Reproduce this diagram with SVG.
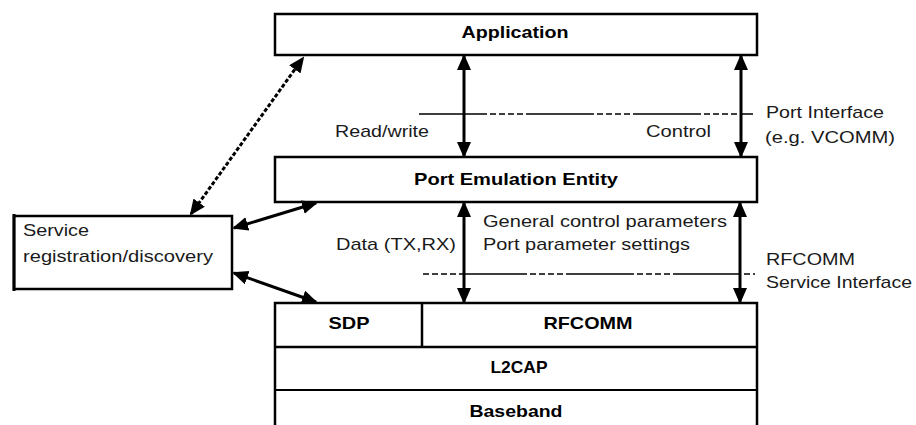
<svg xmlns="http://www.w3.org/2000/svg" width="916" height="425" viewBox="0 0 916 425">
<defs>
<style>
.box{fill:#fff;stroke:#000;stroke-width:2.5}
.t{font-family:"Liberation Sans",Arial,sans-serif;font-size:17px;fill:#1a1a1a}
.b{font-family:"Liberation Sans",Arial,sans-serif;font-size:17px;font-weight:bold;fill:#000}
.c{text-anchor:middle}
.ar{stroke:#000;stroke-width:3;fill:none;marker-start:url(#ah);marker-end:url(#ah)}
.dl{stroke:#000;stroke-width:1.6;fill:none;stroke-dasharray:68 3 6 3 6 3 6 3 6 3}
</style>
<marker id="ah" markerUnits="userSpaceOnUse" markerWidth="18" markerHeight="16" refX="14" refY="7" orient="auto-start-reverse">
<path d="M0,0 L16,7 L0,14 z" fill="#000"/>
</marker>
</defs>
<rect width="916" height="425" fill="#fff"/>

<g id="application">
<rect class="box" x="275" y="14" width="482" height="41"/>
<text class="b c" x="515" y="38" textLength="107" lengthAdjust="spacingAndGlyphs">Application</text>
</g>

<g id="port-emulation-entity">
<rect class="box" x="275" y="157" width="482" height="45"/>
<text class="b c" x="516" y="185" textLength="204" lengthAdjust="spacingAndGlyphs">Port Emulation Entity</text>
</g>

<g id="service-registration">
<rect class="box" x="14" y="216" width="218" height="73"/>
<line x1="14" y1="214" x2="14" y2="291" stroke="#000" stroke-width="3"/>
<text class="t" x="23" y="236" textLength="66" lengthAdjust="spacingAndGlyphs">Service</text>
<text class="t" x="23" y="262" textLength="190" lengthAdjust="spacingAndGlyphs">registration/discovery</text>
</g>

<g id="protocol-stack">
<rect class="box" x="275" y="303" width="482" height="140"/>
<line x1="275" y1="347" x2="757" y2="347" stroke="#000" stroke-width="2.5"/>
<line x1="275" y1="390" x2="757" y2="390" stroke="#000" stroke-width="2"/>
<line x1="422" y1="303" x2="422" y2="347" stroke="#000" stroke-width="2.5"/>
</g>
<g id="sdp"><text class="b c" x="349" y="329" textLength="41" lengthAdjust="spacingAndGlyphs">SDP</text></g>
<g id="rfcomm"><text class="b c" x="588" y="329" textLength="89" lengthAdjust="spacingAndGlyphs">RFCOMM</text></g>
<g id="l2cap"><text class="b c" x="519" y="373" textLength="57" lengthAdjust="spacingAndGlyphs">L2CAP</text></g>
<g id="baseband"><text class="b c" x="516" y="417" textLength="93" lengthAdjust="spacingAndGlyphs">Baseband</text></g>

<g id="interfaces">
<line class="dl" x1="419" y1="114" x2="753" y2="114"/>
<line class="dl" x1="420" y1="274" x2="755" y2="274" stroke-dashoffset="68"/>
<text class="t" x="766" y="118" textLength="118" lengthAdjust="spacingAndGlyphs">Port Interface</text>
<text class="t" x="765" y="143" textLength="130" lengthAdjust="spacingAndGlyphs">(e.g. VCOMM)</text>
<text class="t" x="766" y="265" textLength="89" lengthAdjust="spacingAndGlyphs">RFCOMM</text>
<text class="t" x="766" y="288" textLength="146" lengthAdjust="spacingAndGlyphs">Service Interface</text>
</g>

<g id="connectors">
<line class="ar" x1="464" y1="56" x2="464" y2="156"/>
<line class="ar" x1="741" y1="56" x2="741" y2="156"/>
<line class="ar" x1="464" y1="203" x2="464" y2="302"/>
<line class="ar" x1="740" y1="203" x2="740" y2="302"/>
<line class="ar" x1="191" y1="214" x2="303" y2="58" stroke-dasharray="4 2"/>
<line class="ar" x1="234" y1="228" x2="316" y2="203"/>
<line class="ar" x1="234" y1="273" x2="316" y2="302"/>
<text class="t" x="335" y="137" textLength="94" lengthAdjust="spacingAndGlyphs">Read/write</text>
<text class="t" x="646" y="137" textLength="65" lengthAdjust="spacingAndGlyphs">Control</text>
<text class="t" x="483" y="227" textLength="244" lengthAdjust="spacingAndGlyphs">General control parameters</text>
<text class="t" x="483" y="250" textLength="207" lengthAdjust="spacingAndGlyphs">Port parameter settings</text>
<text class="t" x="336" y="250" textLength="120" lengthAdjust="spacingAndGlyphs">Data (TX,RX)</text>
</g>
</svg>
